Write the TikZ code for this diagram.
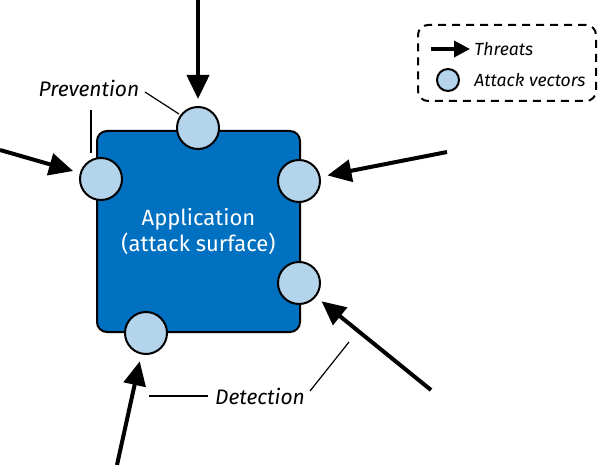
\documentclass[tikz,border=0pt]{standalone}
\usepackage{fontspec}
\setmainfont{Fira Sans}
\usetikzlibrary{arrows.meta}
\definecolor{surfaceblue}{RGB}{0,112,192}
\definecolor{vectorblue}{RGB}{180,212,236}
\tikzset{
  vector/.style={circle, draw=black, line width=1pt, fill=vectorblue, minimum size=21pt, inner sep=0pt},
  threat/.style={line width=2pt, shorten >=3.5pt, -{Triangle[length=12pt,width=11pt]}},
  callout/.style={line width=0.6pt},
  tag/.style={font=\itshape\fontsize{10.5}{12}\selectfont, inner sep=1pt},
  legendtag/.style={font=\itshape\fontsize{8.8}{10}\selectfont, inner sep=0pt}
}
\begin{document}
\begin{tikzpicture}[x=0.5pt, y=-0.5pt]
		    \useasboundingbox (0,0) rectangle (600,465);
		    
		    \node [draw=black, line width=1pt, fill=surfaceblue, rounded corners=5pt, minimum width=101.5pt, minimum height=100.5pt, text=white, align=center, font=\fontsize{11}{13}\selectfont] (app) at (198.5,231.5) {Application\\(attack surface)};
		    
		    \node [vector] (vtop) at (198,128) {};
		    \node [vector] (vleft) at (101,179) {};
		    \node [vector] (vright) at (299,181) {};
		    \node [vector] (vlow) at (299,283) {};
		    \node [vector] (vbottom) at (146,333) {};
		    
		    \coordinate (ttop) at (198,0);
		    \coordinate (tleft) at (0,150);
		    \coordinate (tright) at (447,152);
		    \coordinate (tlow) at (431,390);
		    \coordinate (tbottom) at (117,465);
		    
			\draw [threat] (ttop) -- (vtop);
			\draw [threat] (tleft) -- (vleft);
			\draw [threat] (tright) -- (vright);
			\draw [threat] (tlow) -- (vlow);
			\draw [threat] (tbottom) -- (vbottom);
			
			
			\node [tag] (prev) at (89,88) {Prevention};
			\draw [callout] (145,92) -- (179,114);
			\draw [callout] (91,110) -- (91,153);
			
			\node [tag] (det) at (260,396) {Detection};
			\draw [callout] (149,396) -- (208,396);
			\draw [callout] (310,391) -- (349,342);
			
			
			\node [draw=black, line width=1pt, dash pattern=on 4pt off 3pt, rounded corners=5pt, minimum width=89pt, minimum height=38pt] (legend) at (507,63) {};
			\coordinate (la) at (431,49);
			\draw [line width=1.8pt, -{Triangle[length=8pt,width=8pt]}] (la) -- (470,49);
			\node [legendtag, anchor=west] (lthreat) at (474,49) {Threats};
			\node [vector, minimum size=11pt] (lvector) at (448,80) {};
			\node [legendtag, anchor=west] (lattack) at (474,80) {Attack vectors};
		\end{tikzpicture}
\end{document}
